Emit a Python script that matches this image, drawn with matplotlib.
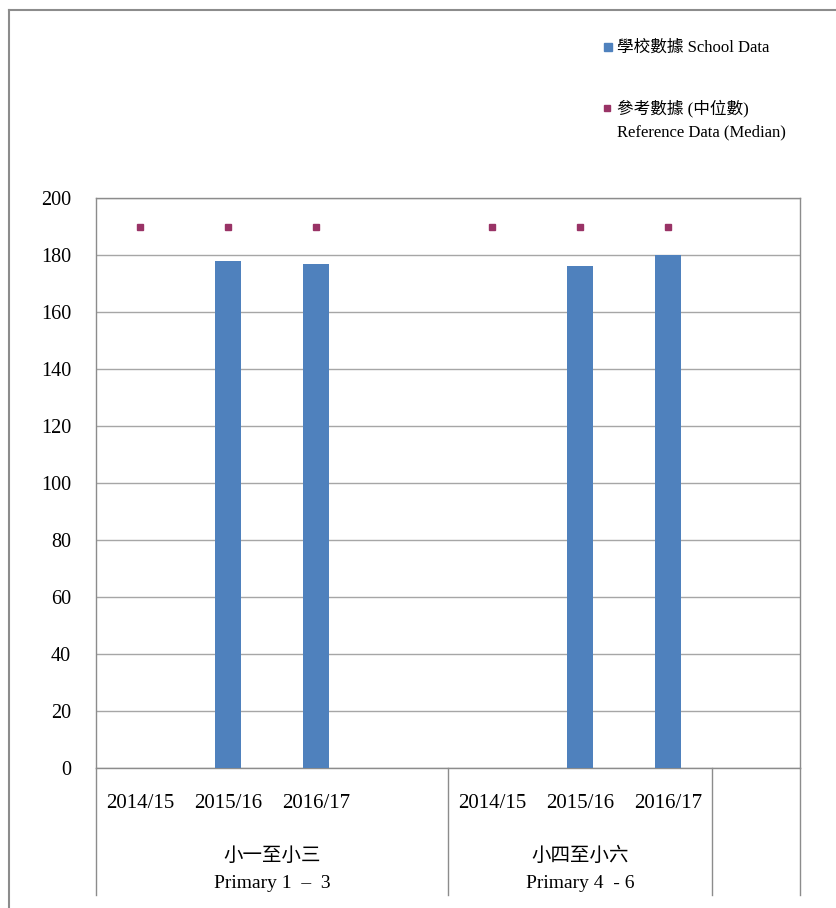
import matplotlib
matplotlib.use("Agg")
import matplotlib.pyplot as plt
from matplotlib.lines import Line2D
from matplotlib.transforms import blended_transform_factory
import numpy as np

years = ["2014/15", "2015/16", "2016/17", "", "2014/15", "2015/16", "2016/17", ""]
school = [None, 178, 177, None, None, 176, 180, None]
median = [190, 190, 190, None, 190, 190, 190, None]
groups_cn = ["小一至小三", "小四至小六"]
groups_en = ["Primary 1  \u2013  3", "Primary 4  - 6"]
y_ticks = [0, 20, 40, 60, 80, 100, 120, 140, 160, 180, 200]

serif = ["Liberation Serif", "DejaVu Serif"]
mixed = ["Liberation Serif", "Noto Sans CJK TC"]

W, H = 836, 908
fig = plt.figure(figsize=(W / 100, H / 100), dpi=100)
ax = fig.add_axes([96 / W, 1 - 768 / H, (800 - 96) / W, (768 - 198) / H])

x = np.arange(len(years))
bx = [i for i, v in enumerate(school) if v is not None]
bv = [school[i] for i in bx]
ax.bar(bx, bv, width=0.29, color="#4F81BD", zorder=3)
mx = [i for i, v in enumerate(median) if v is not None]
mv = [median[i] for i in mx]
ax.plot(mx, mv, linestyle="none", marker="s", markersize=5,
        color="#993366", zorder=4)

ax.set_xlim(-0.5, len(years) - 0.5)
ax.set_ylim(0, 200)
ax.set_yticks(y_ticks)
ax.set_yticklabels([str(t) for t in y_ticks], fontfamily=serif, fontsize=14.5)
ax.tick_params(axis="y", length=0, pad=18)
for lab in ax.get_yticklabels():
    lab.set_y(lab.get_position()[1])
ax.set_xticks([])
ax.grid(axis="y", color="#A6A6A6", linewidth=1, zorder=0)
for s in ax.spines.values():
    s.set_color("#8C8C8C")
    s.set_linewidth(1)

trans = blended_transform_factory(ax.transData, ax.transAxes)
# year labels
for i, lab in enumerate(years):
    if lab:
        ax.text(i, -(803 - 768) / 570, lab, transform=trans, ha="center", va="center",
                fontfamily=serif, fontsize=15, clip_on=False)
# separators below axis
bottom = -(895 - 768) / (768 - 198)
for xs in [-0.5, 3.5, 6.5, 7.5]:
    ax.add_line(Line2D([xs, xs], [0, bottom], transform=trans, color="#8C8C8C",
                       linewidth=1, clip_on=False))
# group labels
centers = [1.5, 5.0]
for c, cn, en in zip(centers, groups_cn, groups_en):
    ax.text(c, -(856 - 768) / 570, cn, transform=trans, ha="center", va="center",
            fontfamily=mixed, fontsize=14, clip_on=False)
    ax.text(c, -(883 - 768) / 570, en, transform=trans, ha="center", va="center",
            fontfamily=serif, fontsize=14, clip_on=False)

# outer frame (top and left)
fig.add_artist(Line2D([9 / W, 9 / W], [0, 1 - 10 / H], transform=fig.transFigure,
                      color="#8C8C8C", linewidth=1.5))
fig.add_artist(Line2D([9 / W, 1], [1 - 10 / H, 1 - 10 / H], transform=fig.transFigure,
                      color="#8C8C8C", linewidth=1.5))

# legend
fig.patches.append(plt.Rectangle((604 / W, 1 - 51 / H), 8 / W, 8 / H,
                                 transform=fig.transFigure, color="#4F81BD"))
fig.text(617 / W, 1 - 48 / H, "學校數據 School Data", ha="left", va="center",
         fontfamily=mixed, fontsize=12)
fig.patches.append(plt.Rectangle((604 / W, 1 - 111 / H), 6 / W, 6 / H,
                                 transform=fig.transFigure, color="#993366"))
fig.text(617 / W, 1 - 109 / H, "參考數據 (中位數)", ha="left", va="center",
         fontfamily=mixed, fontsize=12)
fig.text(617 / W, 1 - 132 / H, "Reference Data (Median)", ha="left", va="center",
         fontfamily=serif, fontsize=12)

fig.savefig("out.png", dpi=100)
